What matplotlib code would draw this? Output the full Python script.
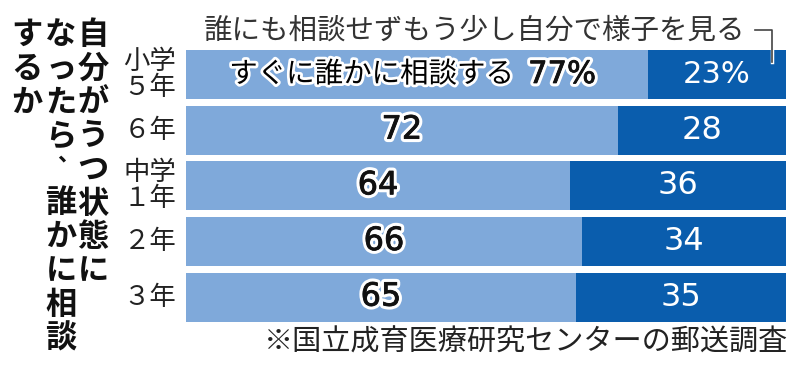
import matplotlib
matplotlib.use("Agg")
import matplotlib.pyplot as plt
import matplotlib.patheffects as pe
from matplotlib.lines import Line2D

plt.rcParams['font.family'] = ['Noto Sans CJK JP', 'DejaVu Sans']

# data
grades = ["小学\n５年", "６年", "中学\n１年", "２年", "３年"]
consult_now = [77, 72, 64, 66, 65]
wait_self = [23, 28, 36, 34, 35]
label_now = "すぐに誰かに相談する"
label_wait = "誰にも相談せずもう少し自分で様子を見る"
title_cols = ["自分がうつ状態に", "なったら、誰かに相談", "するか"]
note = "※国立成育医療研究センターの郵送調査"

LIGHT = "#7FA9DA"
DARK = "#0A5DAD"
W, H = 800, 371


def fx(x):
    return x / W


def fy(y):
    return 1 - y / H


fig = plt.figure(figsize=(8, 3.71), dpi=100)
ax = fig.add_axes([fx(186), fy(325), 600 / W, (325 - 46.6) / H])

ypos = list(range(len(grades)))
ax.barh(ypos, consult_now, height=0.88, color=LIGHT, linewidth=0)
ax.barh(ypos, wait_self, left=consult_now, height=0.88, color=DARK, linewidth=0)
ax.set_xlim(0, 100)
ax.set_ylim(len(grades) - 0.5, -0.5)
ax.axis("off")

halo = [pe.withStroke(linewidth=4, foreground="white")]
# white halo plus a thin dark stroke to thicken regular digits a bit
num_fx = [pe.Stroke(linewidth=5, foreground="white"),
          pe.Stroke(linewidth=0.6, foreground="#111111"), pe.Normal()]

for i, (a, b) in enumerate(zip(consult_now, wait_self)):
    ca = a / 2
    cb = a + b / 2
    if i == 0:
        ax.annotate(label_now, (ca, i), xytext=(70, 0), textcoords="offset points",
                    ha="right", va="center", fontsize=20.5, color="black",
                    path_effects=halo)
        ax.annotate(f"{a}%", (ca, i), xytext=(80, 0), textcoords="offset points",
                    ha="left", va="center", fontsize=22,
                    family="DejaVu Sans", color="#111111", path_effects=num_fx)
        ax.text(cb, i, f"{b}%", ha="center", va="center", fontsize=22,
                family="DejaVu Sans", color="white")
    else:
        ax.text(ca, i, str(a), ha="center", va="center", fontsize=23,
                family="DejaVu Sans", color="#111111", path_effects=num_fx)
        ax.text(cb, i, str(b), ha="center", va="center", fontsize=23,
                family="DejaVu Sans", color="white")

# category labels
for i, g in enumerate(grades):
    ax.annotate(g, (0, i), xytext=(-26, 0), textcoords="offset points",
                ha="center", va="center", fontsize=19, color="#222222",
                linespacing=0.95)

# label above first bar with bracket
fig.text(fx(204), fy(31), label_wait, ha="left", va="center", fontsize=20.5,
         color="#333333")
fig.add_artist(Line2D([fx(755), fx(772), fx(772)], [fy(30), fy(30), fy(62)],
                      color="#444444", linewidth=1.2,
                      path_effects=[pe.withStroke(linewidth=2.5, foreground="white")]))

# vertical title, columns right to left
col_x = [93, 61, 27]
pitch = 33.7
for cx, col in zip(col_x, title_cols):
    for k, ch in enumerate(col):
        y = 35 + k * pitch
        x = cx
        size = 22.5
        if ch == "、":
            x += 7
            y -= 16
            size = 16
        fig.text(fx(x), fy(y), ch, ha="center", va="center", fontsize=size,
                 fontweight="bold", color="#111111")

# footnote
fig.text(fx(788), fy(343), note, ha="right", va="center", fontsize=21,
         color="#222222")

fig.savefig("out.png", dpi=100, facecolor="white")
